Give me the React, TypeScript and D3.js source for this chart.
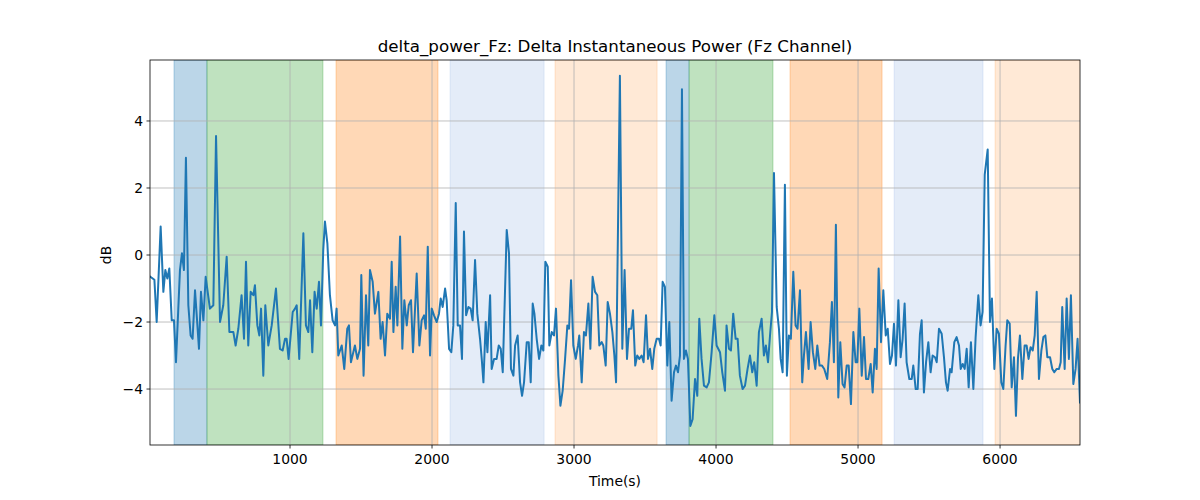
import React from "react";
import * as d3 from "d3";

const times = [14,45,61,89,108,122,136,150,167,183,197,225,239,253,267,284,300,314,331,359,373,390,406,436,460,479,507,530,554,573,601,617,636,659,676,690,706,723,742,753,770,784,796,812,826,847,871,901,929,948,965,976,990,1019,1035,1047,1065,1094,1112,1129,1141,1157,1173,1188,1204,1218,1234,1246,1263,1281,1300,1317,1328,1340,1364,1382,1403,1415,1429,1457,1474,1493,1502,1518,1535,1551,1563,1582,1598,1622,1638,1652,1669,1685,1704,
1716,1728,1744,1756,1775,1791,1805,1822,1836,1852,1866,1892,1911,1927,1944,1956,1970,1986,1998,2014,2033,2049,2061,2075,2092,2103,2120,2136,2150,2167,2181,2197,2211,2225,2240,2256,2272,2286,2303,2319,2338,2350,2362,2378,2390,2409,2420,2437,2455,2470,2484,2498,2526,2542,2556,2573,2585,2603,2620,2634,2648,2667,2681,2695,2709,2721,2737,2754,2770,2784,2798,2815,2826,2843,2859,2873,2890,2904,2920,2937,2953,2965,2979,2995,3012,3028,3037,3054,3070,3084,3101,3115,3131,3148,3164,3178,3195,3206,3223,3237,3253,3270,3284,3296,
3323,3340,3356,3373,3387,3403,3415,3431,3445,3460,3476,3490,3507,3521,3535,3551,3565,3582,3598,3610,3624,3640,3657,3671,3687,3704,3718,3732,3746,3760,3774,3788,3802,3819,3835,3852,3868,3882,3898,3915,3934,3950,3969,3988,4004,4028,4044,4063,4074,4091,4105,4121,4138,4152,4168,4187,4204,4222,4239,4255,4269,4286,4302,4321,4337,4351,4366,4382,4394,4408,4427,4443,4455,4469,4485,4499,4513,4527,4544,4560,4574,4591,4607,4619,4633,4652,4666,4682,4699,4713,4729,4746,4762,4783,4802,4816,4830,4844,4861,4875,4891,4905,4920,
4934,4950,4967,4983,4995,5009,5026,5042,5056,5072,5089,5103,5119,5131,5145,5162,5178,5195,5209,5225,5239,5253,5267,5284,5300,5314,5328,5342,5361,5378,5389,5406,5420,5436,5448,5464,5479,5495,5511,5525,5542,5554,5570,5589,5605,5619,5631,5648,5659,5678,5694,5711,5723,5737,5751,5765,5779,5795,5812,5828,5847,5863,5877,5892,5913,5929,5943,5960,5976,5992,6009,6023,6039,6051,6068,6082,6098,6112,6126,6140,6157,6173,6187,6201,6215,6230,6244,6258,6274,6291,6305,6319,6333,6352,6368,6382,6399,6415,6427,6438,6455,6469,6485,6499,6516,6532,6546,6563];

const values = [-0.64,-0.74,-2,0.85,-1.1,-0.45,-0.7,-0.4,-1.95,-1.95,-3.2,-0.45,0.05,-0.45,2.9,-1.5,-2.4,-2.5,-1.05,-2.8,-1.1,-1.95,-0.65,-1.6,-1.5,3.55,-2,-1.5,-0.05,-2.3,-2.3,-2.7,-2.2,-1.2,-2.5,-0.2,-2.7,-1.1,-1.2,-0.9,-2.1,-2.4,-1.6,-3.6,-1.5,-2.7,-2.1,-1,-2.8,-2.85,-2.5,-2.5,-3.1,-1.7,-1.6,-1.5,-3.1,0.65,-2.1,-2.3,-1.35,-2.9,-1.1,-1.6,-0.8,-2.1,0.15,1,0.35,-1.2,-1.95,-2.1,-1.6,-3,-2.7,-3.4,-2.2,-2.1,-3.2,-2.7,-3.1,-2.8,-0.6,-3.6,-1.2,-2.7,-0.45,-0.8,-1.75,-1.1,-2.5,-2,-3,-1.75,-1.9,
-0.2,-2.3,-0.95,-2.1,0.55,-2.8,-1.35,-2.1,-1.5,-1.35,-2.9,-0.55,-2.7,-1.95,-1.8,-2.2,0.25,-3,-1.6,-1.8,-2,-1.75,-1.3,-1.55,-1,-1.35,-2.8,-2.9,-2.1,1.55,-2.1,-2.1,-3.1,0.7,-1.8,-1.55,-1.6,-1.95,-0.15,-1.75,-2.5,-3.1,-3.8,-2,-2.9,-1.2,-3.4,-3.1,-3.1,-2.7,-2.8,-3.5,0.75,0.05,-3.4,-3.6,-2.7,-2.4,-3.8,-4.2,-3.8,-2.6,-2.6,-3.8,-1.45,-1.75,-2.5,-3.1,-2.7,-2.85,-0.2,-0.35,-2.7,-2.3,-2.4,-1.6,-3.6,-4.5,-4.05,-3.1,-2.1,-2.2,-0.75,-2.7,-3.1,-2.7,-2.4,-3.8,-2.3,-2.4,-1.45,-2.8,-0.65,-1.1,-1.2,-2.7,-2.6,-2.7,-3.3,-1.4,-1.75,-2.3,-3,-3.8,
5.35,-2.8,-0.45,-3.1,-2.2,-2.2,-1.65,-3.3,-3,-3.1,-3,-3.2,-1.8,-3.1,-2.8,-3.4,-2.8,-2.5,-2.5,-2.7,-0.8,-0.95,-3.3,-2,-4.35,-3.5,-3.3,-3.5,-3,4.95,-3.1,-2.85,-3.1,-5.1,-4.9,-3.7,-4.2,-1.9,-3.1,-3.9,-3.95,-3.8,-2.9,-1.8,-2.7,-2.9,-3.5,-4.05,-2.1,-2.8,-2.85,-1.75,-2.5,-2.5,-3.6,-4,-3.9,-3.4,-3,-3.5,-3.2,-3.9,-2.3,-1.9,-3,-2.7,-3.2,-2.3,-1.7,2.45,-1.55,-2.2,-3.1,-3.5,2.1,-3.6,-2.4,-2.5,-0.5,-2.1,-2.2,-1.05,-3.8,-3,-2.3,-3.4,-2,-2.9,-3.4,-2.7,-3.3,-3.3,-3.4,-3.7,-2.6,-1.4,-3.2,0.9,-4.25,-2.6,-3.85,-3.95,-3.3,
-3.3,-4.45,-2.3,-3.2,-3.2,-1.6,-3.6,-2.45,-3.7,-3.7,-3.25,-4.1,-2.8,-3.4,-0.4,-2.6,-1.05,-2.4,-2.2,-3.25,-3,-2.05,-3.3,-1.35,-3.05,-2.5,-1.45,-3.2,-3.7,-3.7,-3.3,-4,-4,-2.35,-1.95,-4.1,-3.2,-2.6,-3.5,-3,-3.05,-3.2,-2.2,-2.35,-3.05,-3.8,-4.05,-3.4,-3.5,-2.6,-2.45,-2.7,-3.4,-3.25,-3.4,-2.8,-3.95,-2.6,-4,-2.45,-1.2,-2.1,-1.7,2.4,3.15,-2,-1.3,-3.4,-2.2,-2.35,-3.8,-4,-2.7,-1.95,-2.05,-3.95,-3.05,-4.8,-3.1,-2.4,-3.7,-2.7,-2.7,-3.1,-2.75,-2.85,-2.4,-1.1,-3.7,-2.85,-2.45,-2.4,-3.05,-3.05,-3.4,-3.5,-3.4,-3.4,-3.2,-1.55,-3.4,-1.3,-3.1,-1.2,-3.85,-3.4,-2.5,-4.4];

const bandStarts = [183, 415, 1324, 2127, 2866, 3648, 3810, 4521, 5254, 5965];
const bandEnds = [415, 1232, 2042, 2789, 3585, 3810, 4401, 5169, 5880, 6600];
const bandColors = ["#1f77b4", "#2ca02c", "#ff7f0e", "#9ab8e6", "#ff7f0e", "#1f77b4", "#2ca02c", "#ff7f0e", "#9ab8e6", "#ff7f0e"];
const bandAlphas = [0.3, 0.3, 0.3, 0.27, 0.17, 0.3, 0.3, 0.3, 0.27, 0.17];

const xTicks = [1000, 2000, 3000, 4000, 5000, 6000];
const yTicks = [-4, -2, 0, 2, 4];

export default function App() {
  const L = 150, R = 1080, T = 60, B = 445;
  const x = d3.scaleLinear().domain([14, 6563]).range([L, R]);
  const y = d3.scaleLinear().domain([-5.67, 5.82]).range([B, T]);
  const line = d3.line<number>().x((_, i) => x(times[i])).y((d) => y(d));
  const font = "DejaVu Sans, sans-serif";
  return (
    <svg width={1200} height={500} style={{ position: "absolute", left: 0, top: 0, background: "#fff" }} fontFamily={font}>
      <defs>
        <clipPath id="c"><rect x={L} y={T} width={R - L} height={B - T} /></clipPath>
      </defs>
      <g clipPath="url(#c)">
        {bandStarts.map((s, i) => (
          <rect key={i} x={x(s)} y={T} width={x(bandEnds[i]) - x(s)} height={B - T} fill={bandColors[i]} fillOpacity={bandAlphas[i]} stroke={bandColors[i]} strokeOpacity={bandAlphas[i]} />
        ))}
        {xTicks.map((t) => <line key={t} x1={x(t)} x2={x(t)} y1={T} y2={B} stroke="#b0b0b0" strokeWidth={0.8} />)}
        {yTicks.map((t) => <line key={t} x1={L} x2={R} y1={y(t)} y2={y(t)} stroke="#b0b0b0" strokeWidth={0.8} />)}
        <path d={line(values) || ""} fill="none" stroke="#1f77b4" strokeWidth={2} strokeLinejoin="round" strokeLinecap="square" />
      </g>
      <rect x={L} y={T} width={R - L} height={B - T} fill="none" stroke="#000" strokeWidth={0.8} />
      {xTicks.map((t) => (
        <g key={t}>
          <line x1={x(t)} x2={x(t)} y1={B} y2={B + 3.5} stroke="#000" strokeWidth={0.8} />
          <text x={x(t)} y={B + 19} fontSize={13.9} textAnchor="middle">{t}</text>
        </g>
      ))}
      {yTicks.map((t) => (
        <g key={t}>
          <line x1={L - 3.5} x2={L} y1={y(t)} y2={y(t)} stroke="#000" strokeWidth={0.8} />
          <text x={L - 7} y={y(t) + 5} fontSize={13.9} textAnchor="end">{t < 0 ? "\u2212" + Math.abs(t) : t}</text>
        </g>
      ))}
      <text x={(L + R) / 2} y={486} fontSize={13.9} textAnchor="middle">Time(s)</text>
      <text transform={`translate(111,255) rotate(-90)`} fontSize={13.9} textAnchor="middle">dB</text>
      <text x={(L + R) / 2} y={52} fontSize={16.7} textAnchor="middle">delta_power_Fz: Delta Instantaneous Power (Fz Channel)</text>
    </svg>
  );
}
